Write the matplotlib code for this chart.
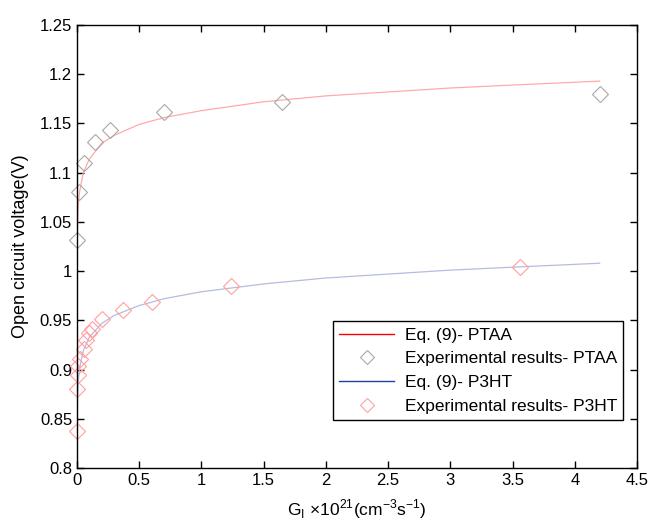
import matplotlib
matplotlib.use("Agg")
import matplotlib.pyplot as plt
from matplotlib.lines import Line2D
from matplotlib.ticker import FormatStrFormatter
import numpy as np

# Eq. (9) model curves
ptaa_fit_x = [0.002, 0.01, 0.02, 0.05, 0.1, 0.2, 0.3, 0.5, 0.7, 1.0, 1.5, 2.0, 2.5, 3.0, 3.5, 4.2]
ptaa_fit_v = [1.036, 1.066, 1.080, 1.100, 1.114, 1.130, 1.138, 1.149, 1.156, 1.163, 1.172,
              1.178, 1.182, 1.186, 1.189, 1.193]
p3ht_fit_x = [0.002, 0.005, 0.01, 0.02, 0.05, 0.1, 0.2, 0.3, 0.5, 0.7, 1.0, 1.5, 2.0, 2.5, 3.0, 3.5, 4.2]
p3ht_fit_v = [0.855, 0.873, 0.887, 0.901, 0.919, 0.933, 0.947, 0.955, 0.965, 0.972, 0.979,
              0.987, 0.993, 0.997, 1.001, 1.004, 1.008]

# experimental points
ptaa_exp_x = [0.0, 0.02, 0.054, 0.145, 0.268, 0.70, 1.65, 4.20]
ptaa_exp_v = [1.032, 1.080, 1.110, 1.131, 1.143, 1.162, 1.172, 1.180]
p3ht_exp_x = [0.0, 0.0, 0.008, 0.01, 0.027, 0.054, 0.075, 0.10, 0.12, 0.20, 0.37, 0.60, 1.235, 3.56]
p3ht_exp_v = [0.838, 0.880, 0.894, 0.904, 0.911, 0.921, 0.930, 0.937, 0.941, 0.951, 0.960,
              0.969, 0.985, 1.004]

x_ticks = [0, 0.5, 1, 1.5, 2, 2.5, 3, 3.5, 4, 4.5]
y_ticks = [0.8, 0.85, 0.9, 0.95, 1.0, 1.05, 1.1, 1.15, 1.2, 1.25]

plt.rcParams['font.family'] = ['Liberation Sans', 'DejaVu Sans']
plt.rcParams['mathtext.fontset'] = 'custom'
plt.rcParams['mathtext.rm'] = 'Liberation Sans'

fig = plt.figure(figsize=(6.56, 5.27), dpi=100)
ax = fig.add_axes([77 / 656, 1 - 468 / 527, 560 / 656, 443 / 527])

ax.plot(ptaa_fit_x, ptaa_fit_v, color='#ffaaaa', lw=0.9)
ax.plot(ptaa_exp_x, ptaa_exp_v, 'D', mfc='none', mec='#a8a8a8', mew=0.8, ms=8, clip_on=False)
ax.plot(p3ht_fit_x, p3ht_fit_v, color='#b4bce0', lw=0.9)
ax.plot(p3ht_exp_x, p3ht_exp_v, 'D', mfc='none', mec='#ff9f9f', mew=0.8, ms=8, clip_on=False)

ax.set_xlim(0, 4.5)
ax.set_ylim(0.8, 1.25)
ax.set_xticks(x_ticks)
ax.set_yticks(y_ticks)
ax.xaxis.set_major_formatter(FormatStrFormatter('%g'))
ax.yaxis.set_major_formatter(FormatStrFormatter('%g'))
ax.tick_params(direction='in', top=True, right=True, length=5, width=1, labelsize=12)
for s in ax.spines.values():
    s.set_linewidth(1)

ax.set_xlabel(r'G$_\mathregular{I}$ ×10$^\mathregular{21}$(cm$^\mathregular{-3}$s$^\mathregular{-1}$)',
              fontsize=12.5, labelpad=7)
ax.set_ylabel('Open circuit voltage(V)', fontsize=13, labelpad=8)

handles = [
    Line2D([], [], color='#ff0000', lw=1),
    Line2D([], [], ls='none', marker='D', mfc='none', mec='#a8a8a8', mew=0.8, ms=7),
    Line2D([], [], color='#2040a0', lw=1),
    Line2D([], [], ls='none', marker='D', mfc='none', mec='#ff9f9f', mew=0.8, ms=7),
]
labels = ['Eq. (9)- PTAA', 'Experimental results- PTAA', 'Eq. (9)- P3HT', 'Experimental results- P3HT']
leg = ax.legend(handles, labels, loc='lower right', bbox_to_anchor=(0.9755, 0.108),
                fontsize=12.5, fancybox=False, framealpha=1, edgecolor='black',
                borderpad=0.35, labelspacing=0.5, handlelength=3.2, handletextpad=0.6,
                borderaxespad=0)
leg.get_frame().set_linewidth(1)

fig.savefig('out.png', dpi=100)
